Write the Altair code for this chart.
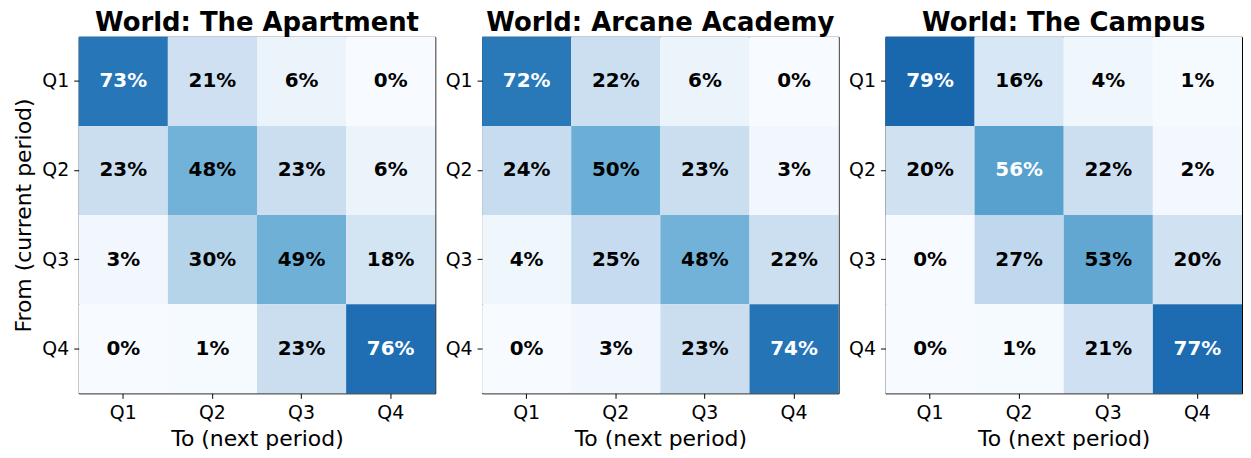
import altair as alt
import pandas as pd

worlds = ["World: The Apartment", "World: Arcane Academy", "World: The Campus"]
quarters = ["Q1", "Q2", "Q3", "Q4"]
apartment = [[73, 21, 6, 0], [23, 48, 23, 6], [3, 30, 49, 18], [0, 1, 23, 76]]
arcane = [[72, 22, 6, 0], [24, 50, 23, 3], [4, 25, 48, 22], [0, 3, 23, 74]]
campus = [[79, 16, 4, 1], [20, 56, 22, 2], [0, 27, 53, 20], [0, 1, 21, 77]]

blues_stops = [0, 0.125, 0.25, 0.375, 0.5, 0.625, 0.75, 0.875, 1.0]
blues_colors = ["#f7fbff", "#deebf7", "#c6dbef", "#9ecae1", "#6baed6",
                "#4292c6", "#2171b5", "#08519c", "#08306b"]

FONT = "DejaVu Sans"
W = 358


def make_df(mat):
    rows = []
    for i, fr in enumerate(quarters):
        for j, to in enumerate(quarters):
            v = mat[i][j]
            rows.append({"from": fr, "to": to, "p": v / 100.0, "label": f"{v}%"})
    return pd.DataFrame(rows)


def panel(mat, title, first):
    df = make_df(mat)
    ytitle = "From (current period)" if first else ""
    base = alt.Chart(df)
    rect = base.mark_rect().encode(
        x=alt.X("to:N", sort=quarters,
                axis=alt.Axis(title="To (next period)", labelAngle=0)),
        y=alt.Y("from:N", sort=quarters,
                axis=alt.Axis(title=ytitle)),
        color=alt.Color("p:Q", legend=None,
                        scale=alt.Scale(domain=blues_stops, range=blues_colors,
                                        interpolate="rgb")),
    )
    text = base.mark_text(font=FONT, fontSize=20, fontWeight="bold").encode(
        x=alt.X("to:N", sort=quarters),
        y=alt.Y("from:N", sort=quarters),
        text="label:N",
        color=alt.condition(alt.datum.p > 0.55, alt.value("white"), alt.value("black")),
    )
    return alt.layer(rect, text).properties(
        width=W, height=W,
        title=alt.TitleParams(text=title, fontSize=26, fontWeight="bold",
                              font=FONT, color="black", frame="group", offset=-20,
                              baseline="alphabetic"),
    )


chart = alt.hconcat(
    panel(apartment, worlds[0], True),
    panel(arcane, worlds[1], False),
    panel(campus, worlds[2], False),
    spacing=8,
).configure(font=FONT).configure_view(
    stroke="black", strokeWidth=1
).configure_axis(
    domain=False, ticks=True, tickSize=5, tickColor="black", tickWidth=1,
    labelFont=FONT, labelFontSize=19, labelColor="black", labelPadding=5,
    titleFont=FONT, titleFontSize=22, titleFontWeight="normal", titleColor="black",
    titlePadding=6, grid=False,
).properties(
    padding={"left": 4, "top": 0, "right": 0, "bottom": 0}
)

chart.save("out.html", embed_options={"renderer": "svg", "actions": False})
